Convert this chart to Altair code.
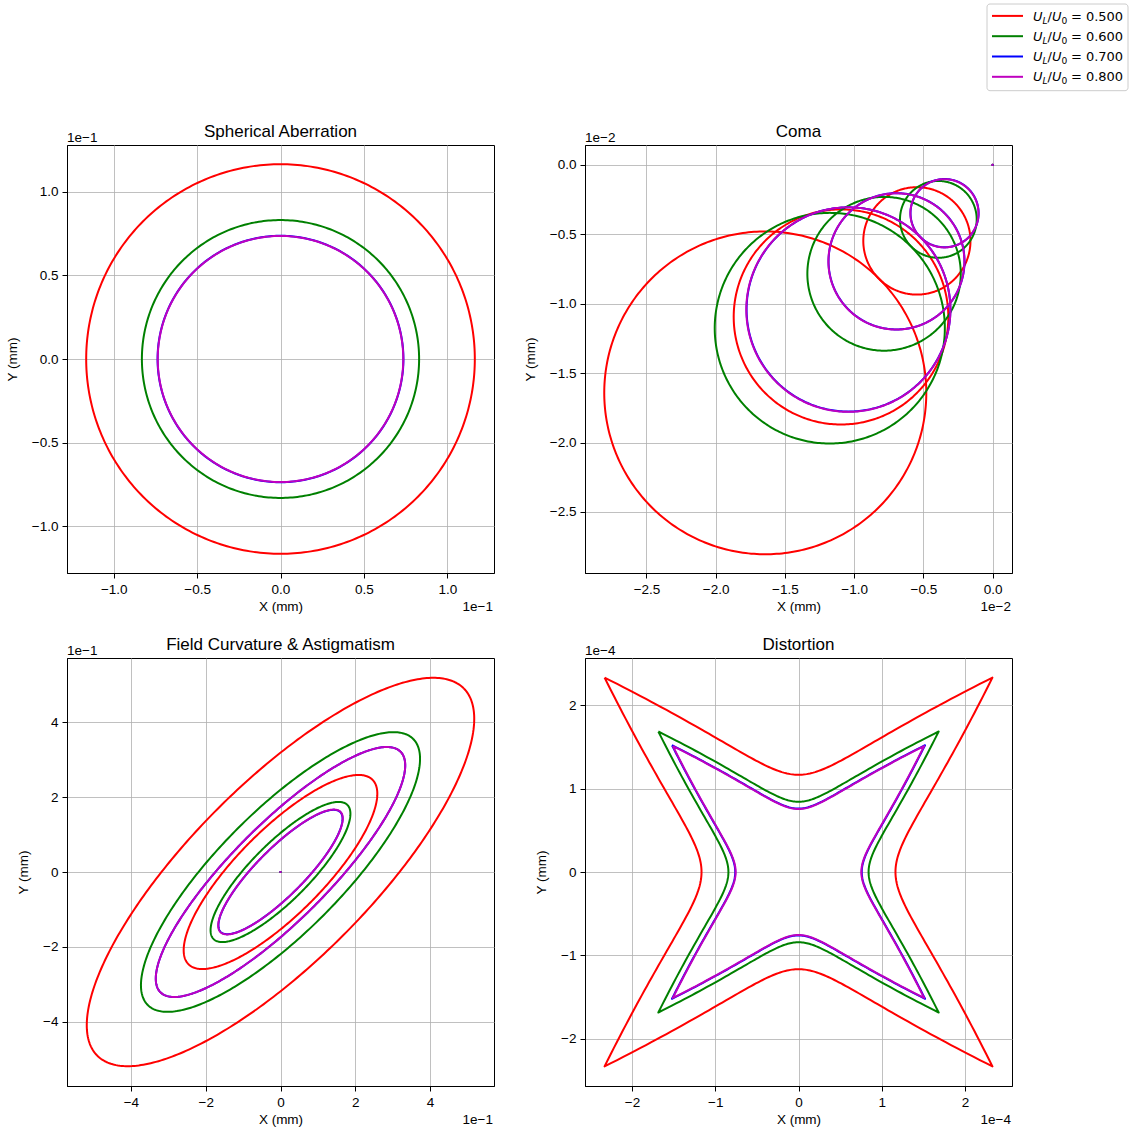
import numpy as np
import pandas as pd
import altair as alt

FONT = "Liberation Sans"
MATH_FONT = "DejaVu Sans"

# ---------------------------------------------------------------- data
RATIOS = ["0.500", "0.600", "0.700", "0.800"]
COLORS = ["#ff0000", "#008000", "#0000ff", "#bf00bf"]

# Spherical aberration: blur circle radius (units of 1e-1 mm)
SPH_RADIUS = [1.165, 0.831, 0.737, 0.736]

# Coma: three comatic circles per ratio (units of 1e-2 mm); centre lies on the diagonal (c, c)
COMA_CENTER = [[-1.642, -1.095, -0.547],
               [-1.176, -0.784, -0.392],
               [-1.041, -0.694, -0.347],
               [-1.042, -0.695, -0.348]]
COMA_RADIUS = [[1.163, 0.775, 0.387],
               [0.831, 0.554, 0.277],
               [0.736, 0.491, 0.246],
               [0.737, 0.491, 0.246]]

# Field curvature & astigmatism: two ellipses per ratio (units of 1e-1 mm),
# semi-axis along the +45 deg diagonal (major) and along -45 deg (minor)
FC_MAJOR = [[6.93, 3.48], [5.02, 2.53], [4.54, 2.26], [4.54, 2.27]]
FC_MINOR = [[2.38, 1.14], [1.63, 0.77], [1.28, 0.63], [1.28, 0.63]]

# Distortion: half-width of the star on the axes (units of 1e-4 mm); tips at twice this on the diagonals
DIST_WAIST = [1.165, 0.842, 0.760, 0.755]

TICKS_SPH = [-1.0, -0.5, 0.0, 0.5, 1.0]
TICKS_COMA = [-2.5, -2.0, -1.5, -1.0, -0.5, 0.0]
TICKS_FC = [-4, -2, 0, 2, 4]
TICKS_DIST = [-2, -1, 0, 1, 2]

DOM_SPH = [-1.28, 1.28]
DOM_COMA_X = [-2.944, 0.14]
DOM_COMA_Y = [-2.94, 0.144]
DOM_FC = [-5.71, 5.71]
DOM_DIST = [-2.565, 2.565]

TITLES = ["Spherical Aberration", "Coma", "Field Curvature & Astigmatism", "Distortion"]
OFFSETS = ["1e\u22121", "1e\u22122", "1e\u22121", "1e\u22124"]

# ---------------------------------------------------------------- build curves
t = np.linspace(0, 2 * np.pi, 361)


def rows(xs, ys, s, c):
    return pd.DataFrame({"x": xs, "y": ys, "series": s, "curve": c, "idx": np.arange(len(xs))})


sph = pd.concat([rows(r * np.cos(t), r * np.sin(t), i, f"{i}") for i, r in enumerate(SPH_RADIUS)])

coma_parts = []
for i in range(4):
    for j in range(3):
        c, r = COMA_CENTER[i][j], COMA_RADIUS[i][j]
        coma_parts.append(rows(c + r * np.cos(t), c + r * np.sin(t), i, f"{i}-{j}"))
coma = pd.concat(coma_parts)

fc_parts = []
for i in range(4):
    for j in range(2):
        a, b = FC_MAJOR[i][j], FC_MINOR[i][j]
        fc_parts.append(rows((a * np.cos(t) - b * np.sin(t)) / np.sqrt(2),
                             (a * np.cos(t) + b * np.sin(t)) / np.sqrt(2), i, f"{i}-{j}"))
fc = pd.concat(fc_parts)

u = np.linspace(-1, 1, 121)
sq_x = np.concatenate([u, np.ones_like(u), -u, -np.ones_like(u)])
sq_y = np.concatenate([np.ones_like(u), -u, -np.ones_like(u), u])
rr = sq_x ** 2 + sq_y ** 2
dist = pd.concat([rows(d * sq_x * rr, d * sq_y * rr, i, f"{i}") for i, d in enumerate(DIST_WAIST)])

origin = pd.DataFrame({"x": [0.0] * 4, "y": [0.0] * 4, "series": [0, 1, 2, 3]})

W, H = 427, 428


def one(text):
    return alt.Chart(pd.DataFrame({"t": [text]}))


def panel(df, title, xdom, ydom, xt, yt, fmt, offset, dots=False, extra=()):
    X = alt.X("x:Q", scale=alt.Scale(domain=xdom, nice=False, zero=False),
              axis=alt.Axis(values=xt, format=fmt, title="X (mm)"))
    Y = alt.Y("y:Q", scale=alt.Scale(domain=ydom, nice=False, zero=False),
              axis=alt.Axis(values=yt, format=fmt, title="Y (mm)"))
    layers = []
    for i, col in enumerate(COLORS):
        layers.append(
            alt.Chart(df[df.series == i]).mark_line(color=col, strokeWidth=2, strokeJoin="round")
            .encode(x=X, y=Y, detail="curve:N", order="idx:Q"))
    if dots:
        for i, col in enumerate(COLORS):
            layers.append(alt.Chart(origin[origin.series == i]).mark_circle(size=5, color=col, opacity=1)
                          .encode(x=X, y=Y))
    # offset (multiplier) texts, as matplotlib shows them
    layers.append(one(offset).mark_text(align="left", baseline="alphabetic", fontSize=13.5, font=FONT, color="black")
                  .encode(x=alt.value(0), y=alt.value(-3.3), text="t:N"))
    layers.append(one(offset).mark_text(align="right", baseline="alphabetic", fontSize=13.5, font=FONT, color="black")
                  .encode(x=alt.value(W - 1), y=alt.value(H + 38), text="t:N"))
    # panel title
    layers.append(one(title).mark_text(align="center", baseline="alphabetic", fontSize=17, font=FONT, color="black")
                  .encode(x=alt.value(W / 2), y=alt.value(-8), text="t:N"))
    layers.extend(extra)
    return alt.layer(*layers).properties(width=W, height=H)


# ---------------------------------------------------------------- custom legend (drawn in the Coma panel)
LEG_ROW0 = -129.1
LEG_STEP = 20.3
legend_layers = [
    one("").mark_rect(fill="white", stroke="#cccccc", strokeWidth=1, cornerRadius=3)
    .encode(x=alt.value(402), x2=alt.value(543), y=alt.value(-141), y2=alt.value(-54.3))
]
for i, col in enumerate(COLORS):
    legend_layers.append(one("").mark_rule(color=col, strokeWidth=2)
                         .encode(x=alt.value(407), x2=alt.value(438), y=alt.value(LEG_ROW0 + i * LEG_STEP)))
base_y = LEG_ROW0 + 4.7


def col_text(text, x, dy, size, italic):
    return one(text).mark_text(align="left", baseline="alphabetic", font=MATH_FONT, fontSize=size,
                               fontStyle="italic" if italic else "normal", color="black",
                               lineBreak="\n", lineHeight=LEG_STEP).encode(
        x=alt.value(x), y=alt.value(base_y + dy), text="t:N")


legend_layers += [
    col_text("\n".join(["U"] * 4), 448, 0, 13, True),
    col_text("\n".join(["L"] * 4), 457.5, 3, 9.1, True),
    col_text("\n".join(["/"] * 4), 462.6, 0, 13, False),
    col_text("\n".join(["U"] * 4), 467, 0, 13, True),
    col_text("\n".join(["0"] * 4), 476.5, 3, 9.1, False),
    col_text("\n".join([f"= {r}" for r in RATIOS]), 485.9, 0, 13, False),
]

p1 = panel(sph, TITLES[0], DOM_SPH, DOM_SPH, TICKS_SPH, TICKS_SPH, ".1f", OFFSETS[0])
p2 = panel(coma, TITLES[1], DOM_COMA_X, DOM_COMA_Y, TICKS_COMA, TICKS_COMA, ".1f", OFFSETS[1], dots=True,
           extra=legend_layers)
p3 = panel(fc, TITLES[2], DOM_FC, DOM_FC, TICKS_FC, TICKS_FC, "d", OFFSETS[2], dots=True)
p4 = panel(dist, TITLES[3], DOM_DIST, DOM_DIST, TICKS_DIST, TICKS_DIST, "d", OFFSETS[3])

chart = alt.concat(p1, p2, p3, p4, columns=2, spacing={"row": 85, "column": 91}, bounds="flush").properties(
    padding={"left": 4, "top": 3, "right": 0, "bottom": 0}
).configure_view(stroke="black", strokeWidth=1).configure_axis(
    grid=True, gridColor="#b0b0b0", gridWidth=0.8, domainColor="black", domainWidth=1,
    tickColor="black", tickSize=5, tickWidth=1, labelFont=FONT, labelFontSize=13.5, labelColor="black",
    labelPadding=4, labelFlush=False, labelOverlap=False, titleFont=FONT, titleFontSize=13.5,
    titleFontWeight="normal", titleColor="black"
).configure_axisX(titlePadding=4).configure_axisY(titlePadding=12)

chart.save("out.html", embed_options={"renderer": "svg", "actions": False})
